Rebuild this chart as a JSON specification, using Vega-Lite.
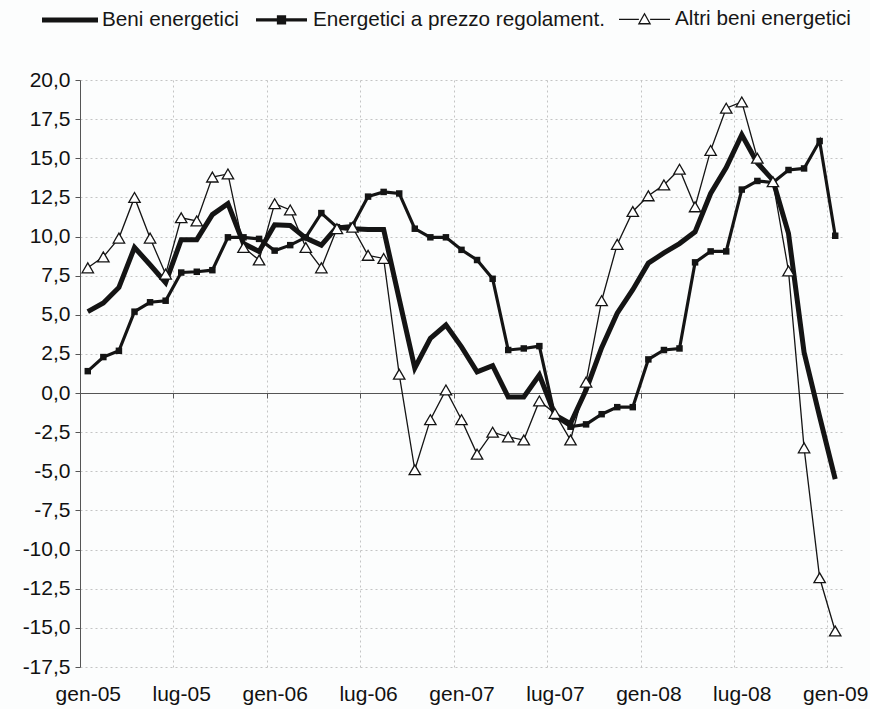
{
  "$schema": "https://vega.github.io/schema/vega-lite/v6.json",
  "width": 763,
  "height": 587,
  "autosize": {"type": "none"},
  "padding": {"left": 80, "top": 80, "right": 27, "bottom": 42},
  "background": "#fcfdfd",
  "config": {
    "view": {"stroke": null},
    "font": "Liberation Sans",
    "axis": {"labelFont": "Liberation Sans", "labelFontSize": 21, "labelColor": "#111111", "titleFont": "Liberation Sans"},
    "legend": {"labelFont": "Liberation Sans"}
  },
  "datasets": {
    "serie": [
      {"t": 0, "serie": "Beni energetici", "v": 5.2}, {"t": 1, "serie": "Beni energetici", "v": 5.75}, {"t": 2, "serie": "Beni energetici", "v": 6.75}, {"t": 3, "serie": "Beni energetici", "v": 9.3}, {"t": 4, "serie": "Beni energetici", "v": 8.2}, {"t": 5, "serie": "Beni energetici", "v": 7.05}, {"t": 6, "serie": "Beni energetici", "v": 9.8}, {"t": 7, "serie": "Beni energetici", "v": 9.8}, {"t": 8, "serie": "Beni energetici", "v": 11.4}, {"t": 9, "serie": "Beni energetici", "v": 12.1}, {"t": 10, "serie": "Beni energetici", "v": 9.55}, {"t": 11, "serie": "Beni energetici", "v": 9.05}, {"t": 12, "serie": "Beni energetici", "v": 10.75}, {"t": 13, "serie": "Beni energetici", "v": 10.7}, {"t": 14, "serie": "Beni energetici", "v": 9.9}, {"t": 15, "serie": "Beni energetici", "v": 9.45}, {"t": 16, "serie": "Beni energetici", "v": 10.6}, {"t": 17, "serie": "Beni energetici", "v": 10.5}, {"t": 18, "serie": "Beni energetici", "v": 10.45}, {"t": 19, "serie": "Beni energetici", "v": 10.45}, {"t": 20, "serie": "Beni energetici", "v": 6.0}, {"t": 21, "serie": "Beni energetici", "v": 1.6}, {"t": 22, "serie": "Beni energetici", "v": 3.5}, {"t": 23, "serie": "Beni energetici", "v": 4.35}, {"t": 24, "serie": "Beni energetici", "v": 2.95}, {"t": 25, "serie": "Beni energetici", "v": 1.35}, {"t": 26, "serie": "Beni energetici", "v": 1.75}, {"t": 27, "serie": "Beni energetici", "v": -0.25}, {"t": 28, "serie": "Beni energetici", "v": -0.25}, {"t": 29, "serie": "Beni energetici", "v": 1.15}, {"t": 30, "serie": "Beni energetici", "v": -1.4}, {"t": 31, "serie": "Beni energetici", "v": -1.95}, {"t": 32, "serie": "Beni energetici", "v": 0.2}, {"t": 33, "serie": "Beni energetici", "v": 2.9}, {"t": 34, "serie": "Beni energetici", "v": 5.1}, {"t": 35, "serie": "Beni energetici", "v": 6.6}, {"t": 36, "serie": "Beni energetici", "v": 8.3}, {"t": 37, "serie": "Beni energetici", "v": 8.95}, {"t": 38, "serie": "Beni energetici", "v": 9.55}, {"t": 39, "serie": "Beni energetici", "v": 10.3}, {"t": 40, "serie": "Beni energetici", "v": 12.75}, {"t": 41, "serie": "Beni energetici", "v": 14.4}, {"t": 42, "serie": "Beni energetici", "v": 16.5}, {"t": 43, "serie": "Beni energetici", "v": 14.7}, {"t": 44, "serie": "Beni energetici", "v": 13.6}, {"t": 45, "serie": "Beni energetici", "v": 10.2}, {"t": 46, "serie": "Beni energetici", "v": 2.6}, {"t": 47, "serie": "Beni energetici", "v": -1.5}, {"t": 48, "serie": "Beni energetici", "v": -5.5},
      {"t": 0, "serie": "Energetici a prezzo regolament.", "v": 1.4}, {"t": 1, "serie": "Energetici a prezzo regolament.", "v": 2.3}, {"t": 2, "serie": "Energetici a prezzo regolament.", "v": 2.7}, {"t": 3, "serie": "Energetici a prezzo regolament.", "v": 5.2}, {"t": 4, "serie": "Energetici a prezzo regolament.", "v": 5.8}, {"t": 5, "serie": "Energetici a prezzo regolament.", "v": 5.9}, {"t": 6, "serie": "Energetici a prezzo regolament.", "v": 7.7}, {"t": 7, "serie": "Energetici a prezzo regolament.", "v": 7.75}, {"t": 8, "serie": "Energetici a prezzo regolament.", "v": 7.85}, {"t": 9, "serie": "Energetici a prezzo regolament.", "v": 9.95}, {"t": 10, "serie": "Energetici a prezzo regolament.", "v": 9.95}, {"t": 11, "serie": "Energetici a prezzo regolament.", "v": 9.85}, {"t": 12, "serie": "Energetici a prezzo regolament.", "v": 9.1}, {"t": 13, "serie": "Energetici a prezzo regolament.", "v": 9.45}, {"t": 14, "serie": "Energetici a prezzo regolament.", "v": 9.95}, {"t": 15, "serie": "Energetici a prezzo regolament.", "v": 11.5}, {"t": 16, "serie": "Energetici a prezzo regolament.", "v": 10.6}, {"t": 17, "serie": "Energetici a prezzo regolament.", "v": 10.7}, {"t": 18, "serie": "Energetici a prezzo regolament.", "v": 12.55}, {"t": 19, "serie": "Energetici a prezzo regolament.", "v": 12.85}, {"t": 20, "serie": "Energetici a prezzo regolament.", "v": 12.75}, {"t": 21, "serie": "Energetici a prezzo regolament.", "v": 10.5}, {"t": 22, "serie": "Energetici a prezzo regolament.", "v": 9.95}, {"t": 23, "serie": "Energetici a prezzo regolament.", "v": 9.95}, {"t": 24, "serie": "Energetici a prezzo regolament.", "v": 9.15}, {"t": 25, "serie": "Energetici a prezzo regolament.", "v": 8.5}, {"t": 26, "serie": "Energetici a prezzo regolament.", "v": 7.3}, {"t": 27, "serie": "Energetici a prezzo regolament.", "v": 2.75}, {"t": 28, "serie": "Energetici a prezzo regolament.", "v": 2.85}, {"t": 29, "serie": "Energetici a prezzo regolament.", "v": 3.0}, {"t": 30, "serie": "Energetici a prezzo regolament.", "v": -1.5}, {"t": 31, "serie": "Energetici a prezzo regolament.", "v": -2.15}, {"t": 32, "serie": "Energetici a prezzo regolament.", "v": -2.0}, {"t": 33, "serie": "Energetici a prezzo regolament.", "v": -1.35}, {"t": 34, "serie": "Energetici a prezzo regolament.", "v": -0.9}, {"t": 35, "serie": "Energetici a prezzo regolament.", "v": -0.9}, {"t": 36, "serie": "Energetici a prezzo regolament.", "v": 2.15}, {"t": 37, "serie": "Energetici a prezzo regolament.", "v": 2.75}, {"t": 38, "serie": "Energetici a prezzo regolament.", "v": 2.85}, {"t": 39, "serie": "Energetici a prezzo regolament.", "v": 8.35}, {"t": 40, "serie": "Energetici a prezzo regolament.", "v": 9.05}, {"t": 41, "serie": "Energetici a prezzo regolament.", "v": 9.05}, {"t": 42, "serie": "Energetici a prezzo regolament.", "v": 13.0}, {"t": 43, "serie": "Energetici a prezzo regolament.", "v": 13.55}, {"t": 44, "serie": "Energetici a prezzo regolament.", "v": 13.45}, {"t": 45, "serie": "Energetici a prezzo regolament.", "v": 14.25}, {"t": 46, "serie": "Energetici a prezzo regolament.", "v": 14.35}, {"t": 47, "serie": "Energetici a prezzo regolament.", "v": 16.1}, {"t": 48, "serie": "Energetici a prezzo regolament.", "v": 10.05},
      {"t": 0, "serie": "Altri beni energetici", "v": 8.0}, {"t": 1, "serie": "Altri beni energetici", "v": 8.7}, {"t": 2, "serie": "Altri beni energetici", "v": 9.9}, {"t": 3, "serie": "Altri beni energetici", "v": 12.5}, {"t": 4, "serie": "Altri beni energetici", "v": 9.9}, {"t": 5, "serie": "Altri beni energetici", "v": 7.6}, {"t": 6, "serie": "Altri beni energetici", "v": 11.2}, {"t": 7, "serie": "Altri beni energetici", "v": 11.0}, {"t": 8, "serie": "Altri beni energetici", "v": 13.8}, {"t": 9, "serie": "Altri beni energetici", "v": 14.0}, {"t": 10, "serie": "Altri beni energetici", "v": 9.3}, {"t": 11, "serie": "Altri beni energetici", "v": 8.5}, {"t": 12, "serie": "Altri beni energetici", "v": 12.1}, {"t": 13, "serie": "Altri beni energetici", "v": 11.7}, {"t": 14, "serie": "Altri beni energetici", "v": 9.3}, {"t": 15, "serie": "Altri beni energetici", "v": 8.0}, {"t": 16, "serie": "Altri beni energetici", "v": 10.5}, {"t": 17, "serie": "Altri beni energetici", "v": 10.6}, {"t": 18, "serie": "Altri beni energetici", "v": 8.8}, {"t": 19, "serie": "Altri beni energetici", "v": 8.6}, {"t": 20, "serie": "Altri beni energetici", "v": 1.2}, {"t": 21, "serie": "Altri beni energetici", "v": -4.9}, {"t": 22, "serie": "Altri beni energetici", "v": -1.7}, {"t": 23, "serie": "Altri beni energetici", "v": 0.2}, {"t": 24, "serie": "Altri beni energetici", "v": -1.7}, {"t": 25, "serie": "Altri beni energetici", "v": -3.9}, {"t": 26, "serie": "Altri beni energetici", "v": -2.5}, {"t": 27, "serie": "Altri beni energetici", "v": -2.8}, {"t": 28, "serie": "Altri beni energetici", "v": -3.0}, {"t": 29, "serie": "Altri beni energetici", "v": -0.5}, {"t": 30, "serie": "Altri beni energetici", "v": -1.3}, {"t": 31, "serie": "Altri beni energetici", "v": -3.0}, {"t": 32, "serie": "Altri beni energetici", "v": 0.7}, {"t": 33, "serie": "Altri beni energetici", "v": 5.9}, {"t": 34, "serie": "Altri beni energetici", "v": 9.5}, {"t": 35, "serie": "Altri beni energetici", "v": 11.6}, {"t": 36, "serie": "Altri beni energetici", "v": 12.6}, {"t": 37, "serie": "Altri beni energetici", "v": 13.3}, {"t": 38, "serie": "Altri beni energetici", "v": 14.3}, {"t": 39, "serie": "Altri beni energetici", "v": 11.9}, {"t": 40, "serie": "Altri beni energetici", "v": 15.5}, {"t": 41, "serie": "Altri beni energetici", "v": 18.2}, {"t": 42, "serie": "Altri beni energetici", "v": 18.6}, {"t": 43, "serie": "Altri beni energetici", "v": 15.0}, {"t": 44, "serie": "Altri beni energetici", "v": 13.5}, {"t": 45, "serie": "Altri beni energetici", "v": 7.8}, {"t": 46, "serie": "Altri beni energetici", "v": -3.5}, {"t": 47, "serie": "Altri beni energetici", "v": -11.8}, {"t": 48, "serie": "Altri beni energetici", "v": -15.2}
    ]
  },
  "data": {"name": "serie"},
  "encoding": {
    "y": {
      "field": "v", "type": "quantitative",
      "scale": {"domain": [-17.5, 20], "nice": false, "zero": false},
      "axis": {
        "title": null,
        "values": [-17.5, -15, -12.5, -10, -7.5, -5, -2.5, 0, 2.5, 5, 7.5, 10, 12.5, 15, 17.5, 20],
        "labelExpr": "(datum.value < 0 ? '-' : '') + replace(format(abs(datum.value), '.1f'), '.', ',')",
        "domainColor": "#555555", "tickColor": "#555555", "tickSize": 5, "labelPadding": 5,
        "grid": true, "gridColor": "#c4c4c4", "gridDash": [2, 3], "gridWidth": 1
      }
    }
  },
  "layer": [
    {
      "mark": {"type": "line", "strokeJoin": "miter"},
      "encoding": {
        "x": {
          "field": "t", "type": "quantitative",
          "scale": {"domain": [-0.5, 48.5], "nice": false, "zero": false},
          "axis": {
            "orient": "bottom", "title": null, "values": [0, 6, 12, 18, 24, 30, 36, 42, 48],
            "labelExpr": "['gen-05','lug-05','gen-06','lug-06','gen-07','lug-07','gen-08','lug-08','gen-09'][round(datum.value / 6)]",
            "grid": false, "domain": false, "ticks": false, "labelPadding": 16, "labelFlush": false
          }
        },
        "color": {
          "field": "serie", "type": "nominal",
          "scale": {"domain": ["Beni energetici", "Energetici a prezzo regolament.", "Altri beni energetici"], "range": ["#141414", "#141414", "#141414"]},
          "legend": {
            "title": null, "orient": "none", "direction": "horizontal", "legendX": -38, "legendY": -88,
            "padding": 0, "labelFontSize": 20.7, "labelColor": "#161616", "labelLimit": 400, "labelOffset": 4,
            "columnPadding": 10, "symbolSize": 3136,
            "encoding": {
              "symbols": {
                "shape": {"value": {"expr": "datum.value === 'Beni energetici' ? 'M-1,0H1' : (datum.value === 'Energetici a prezzo regolament.' ? 'M-1,0H1M-0.12,-0.12H0.12V0.12H-0.12Z' : 'M-1,0H-0.22M0.22,0H1M-0.22,0.17L0,-0.22L0.22,0.17Z')"}},
                "strokeWidth": {"value": {"expr": "datum.value === 'Beni energetici' ? 5 : 1.3"}},
                "fill": {"value": {"expr": "datum.value === 'Altri beni energetici' ? '#ffffff' : '#141414'"}},
                "stroke": {"value": "#141414"},
                "size": {"value": {"expr": "datum.value === 'Beni energetici' ? 3136 : 2601"}}
              }
            }
          }
        },
        "strokeWidth": {
          "field": "serie", "type": "nominal",
          "scale": {"domain": ["Beni energetici", "Energetici a prezzo regolament.", "Altri beni energetici"], "range": [5, 1.3, 1.3]},
          "legend": null
        }
      }
    },
    {
      "transform": [{"filter": "datum.serie === 'Energetici a prezzo regolament.'"}],
      "mark": {"type": "point", "shape": "square", "filled": true, "size": 42, "color": "#141414", "opacity": 1},
      "encoding": {
        "x": {
          "field": "t", "type": "quantitative",
          "axis": {
            "orient": "bottom", "title": null, "values": [-0.5, 5.5, 11.5, 17.5, 23.5, 29.5, 35.5, 41.5, 47.5],
            "labels": false, "domain": false, "ticks": false,
            "grid": true, "gridColor": "#c4c4c4", "gridDash": [2, 3], "gridWidth": 1
          }
        }
      }
    },
    {
      "transform": [{"filter": "datum.serie === 'Altri beni energetici'"}],
      "mark": {"type": "point", "shape": "triangle-up", "filled": true, "fill": "#ffffff", "stroke": "#141414", "strokeWidth": 1.3, "size": 130, "opacity": 1},
      "encoding": {
        "x": {
          "field": "t", "type": "quantitative",
          "axis": {
            "orient": "bottom", "title": null, "values": [-0.5, 5.5, 11.5, 17.5, 23.5, 29.5, 35.5, 41.5, 47.5],
            "labels": false, "grid": false, "offset": -274,
            "domain": true, "domainColor": "#555555", "ticks": true, "tickColor": "#555555", "tickSize": 5
          }
        }
      }
    }
  ],
  "resolve": {"axis": {"x": "independent"}}
}
